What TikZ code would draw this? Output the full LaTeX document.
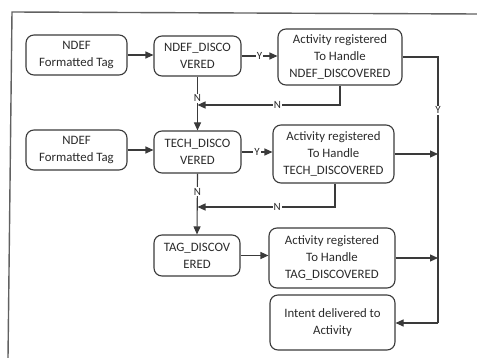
\documentclass[tikz,border=0pt]{standalone}
\usepackage{fontspec}
\setmainfont{Carlito}
\usetikzlibrary{arrows.meta,calc}
\definecolor{ln}{HTML}{3A3A3A}
\definecolor{tx}{HTML}{2A2A2A}
\tikzset{
  box/.style={draw=ln, line width=1.1pt, rounded corners=8pt, align=center,
    inner sep=0pt, text=tx, font=\fontsize{12.8}{17}\selectfont},
  arr/.style={draw=ln, line width=1.1pt, -{Triangle[length=8pt,width=7pt]}},
  con/.style={draw=ln, line width=1.1pt},
  lab/.style={fill=white, inner sep=1pt, text=tx, font=\fontsize{11}{12}\selectfont}
}
\begin{document}
\begin{tikzpicture}[x=1pt,y=1pt]
\useasboundingbox (0,0) rectangle (477,-358);
\draw[draw=ln!80, line width=1.4pt] (8,-358) -- (12,-12) -- (477,-14);

% row 1
\node[box, minimum width=101pt, minimum height=40pt] (t1) at (76.5,-55) {NDEF\\Formatted Tag};
\node[box, minimum width=87pt, minimum height=40pt] (nd) at (197.5,-56) {NDEF\_DISCO\\VERED};
\node[box, minimum width=124pt, minimum height=56pt] (a1) at (340,-57) {Activity registered\\To Handle\\NDEF\_DISCOVERED};
% row 2
\node[box, minimum width=101pt, minimum height=40pt] (t2) at (76.5,-150) {NDEF\\Formatted Tag};
\node[box, minimum width=87pt, minimum height=42pt] (td) at (197.5,-152) {TECH\_DISCO\\VERED};
\node[box, minimum width=121pt, minimum height=58pt] (a2) at (333.5,-154) {Activity registered\\To Handle\\TECH\_DISCOVERED};
% row 3
\node[box, minimum width=86pt, minimum height=41pt] (tg) at (197,-255.5) {TAG\_DISCOV\\ERED};
\node[box, minimum width=126pt, minimum height=60pt] (a3) at (332,-258) {Activity registered\\To Handle\\TAG\_DISCOVERED};
\node[box, minimum width=125pt, minimum height=55pt] (in) at (332.5,-322.5) {Intent delivered to\\Activity};

% helper coordinates
\coordinate (vx) at (438,0);
\coordinate (fb1) at (0,-105);
\coordinate (fb2) at (0,-207);
\coordinate (bt) at (0,-323);

% horizontal flows
\draw[arr] (t1.east) -- (t1.east -| nd.west);
\draw[arr] (nd.east) -- node[lab]{Y} (nd.east -| a1.west);
\draw[arr] (t2.east) -- (t2.east -| td.west);
\draw[arr] (td.east) -- node[lab]{Y} (td.east -| a2.west);
\draw[arr] (tg.east) -- (tg.east -| a3.west);

% right-hand Y bus
\draw[con] (a1.east) -- (a1.east -| vx) -- node[lab, pos=0.2]{Y} (vx |- bt);
\draw[arr] (vx |- bt) -- (bt -| in.east);
\draw[arr] (a2.east) -- (a2.east -| vx);
\draw[arr] (a3.east) -- (a3.east -| vx);

% vertical N flows
\draw[arr] (nd.south) -- node[lab, pos=0.4]{N} (td.north);
\draw[arr] (td.south) -- node[lab, pos=0.3]{N} (tg.north);

% feedback N lines
\draw[arr] (a1.south) -- (a1.south |- fb1) -- node[lab, pos=0.44]{N} (fb1 -| nd.south);
\draw[arr] ([xshift=1.5pt]a2.south) -- ([xshift=1.5pt]a2.south |- fb2) -- node[lab, pos=0.42]{N} (fb2 -| td.south);
\end{tikzpicture}
\end{document}
